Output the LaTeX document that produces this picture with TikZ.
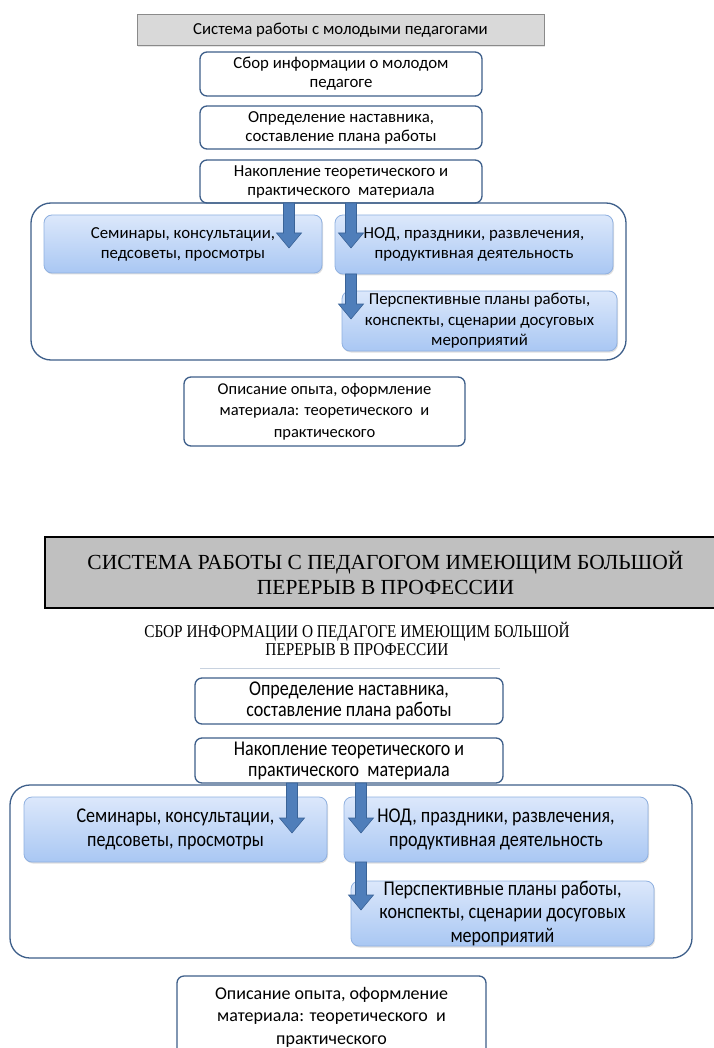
\documentclass[tikz,border=0pt]{standalone}
\usepackage{fontspec}
\setmainfont{Carlito}
\newfontfamily\condfont[FakeStretch=0.86]{Carlito}
\newfontfamily\ttlfont{Liberation Serif}
\newfontfamily\capsfont[FakeStretch=0.85]{Liberation Serif}
\usepackage{xcolor}
\usepackage{tikz}
\usetikzlibrary{shadows,calc}

\definecolor{frameblue}{HTML}{3E5F8A}
\definecolor{bluetop}{HTML}{DCE8FB}
\definecolor{bluebot}{HTML}{A9C7F3}
\definecolor{blueedge}{HTML}{8FB0E0}
\definecolor{arrowblue}{HTML}{4F7EBA}
\definecolor{arrowedge}{HTML}{3A6397}
\definecolor{ttlgray}{HTML}{D9D9D9}
\definecolor{ttledge}{HTML}{8A8A8A}
\definecolor{biggray}{HTML}{C0C0C0}
\definecolor{faintline}{HTML}{C8D2DF}

\newcommand{\blockarr}[2]{%
    \filldraw[arrowstyle] let \p1=(#1), \p2=(#2) in
        (\x1-5.5pt,\y1) -- (\x1+5.5pt,\y1) -- (\x1+5.5pt,\y2+15pt) -- (\x1+12.5pt,\y2+15pt)
        -- (\x1,\y2) -- (\x1-12.5pt,\y2+15pt) -- (\x1-5.5pt,\y2+15pt) -- cycle;
}

\begin{document}
\begin{tikzpicture}[x=1pt,y=-1pt]
    \tikzstyle{whitebox}=[draw=frameblue, line width=1.3pt, rounded corners=7pt, fill=white, align=center, inner sep=0pt, font=\fontsize{16.8}{19}\selectfont]
    \tikzstyle{bluebox}=[draw=blueedge, line width=0.8pt, rounded corners=8pt, top color=bluetop, bottom color=bluebot, align=center, inner sep=0pt, font=\fontsize{16.8}{20}\selectfont, drop shadow={shadow xshift=1pt, shadow yshift=-1.5pt, opacity=0.25}]
    \tikzstyle{frame}=[draw=frameblue, line width=1.3pt, rounded corners=20pt]
    \tikzstyle{arrowstyle}=[fill=arrowblue, draw=arrowedge, line width=0.6pt]
    \tikzstyle{lower}=[font=\condfont\fontsize{21}{21}\selectfont]
\useasboundingbox (0,0) rectangle (713,1048);
\fill[white] (0,0) rectangle (713,1048);

\node[draw=ttledge, line width=1pt, fill=ttlgray, minimum width=407pt, minimum height=31pt, inner sep=0pt, font=\fontsize{16.8}{18}\selectfont,
    drop shadow={shadow xshift=1pt, shadow yshift=-1.5pt, opacity=0.2}] (ttl) at (340.5,30.5) {Система работы с молодыми педагогами};
\node[whitebox, minimum width=282pt, minimum height=44pt] (info) at (341,74) {Сбор информации о молодом\\педагоге};
\node[whitebox, minimum width=282pt, minimum height=43pt] (ment) at (341,127.5) {Определение наставника,\\составление плана работы};
\node[whitebox, minimum width=282pt, minimum height=43pt] (acc) at (341,181.5) {Накопление теоретического и\\практического\ \ материала};
\node[frame, minimum width=595pt, minimum height=157pt] (cont) at (328.5,281.5) {};
\node[bluebox, minimum width=278pt, minimum height=58pt] (sem) at (183,244) {Семинары, консультации,\\педсоветы, просмотры};
\node[bluebox, minimum width=278pt, minimum height=59pt] (nod) at (474,244.5) {НОД, праздники, развлечения,\\продуктивная деятельность};
\node[bluebox, minimum width=275pt, minimum height=60pt, font=\fontsize{16.8}{20.5}\selectfont] (plan) at (479.5,321) {Перспективные планы работы,\\конспекты, сценарии досуговых\\мероприятий};
\node[whitebox, minimum width=281pt, minimum height=69pt, font=\fontsize{16.5}{21.5}\selectfont] (desc) at (324.5,411.5) {Описание опыта, оформление\\материала: теоретического\ \ и\\практического};

\coordinate (a1s) at (289,203);
\coordinate (a1e) at (289,248);
\coordinate (a2s) at (351,203);
\coordinate (a2e) at (351,248);
\coordinate (a3s) at (351,274);
\coordinate (a3e) at (351,319);
\blockarr{a1s}{a1e}
\blockarr{a2s}{a2e}
\blockarr{a3s}{a3e}

\node[draw=black, line width=2pt, fill=biggray, minimum width=681pt, minimum height=71pt, inner sep=0pt, align=center,
    font=\ttlfont\fontsize{21.5}{25}\selectfont] (bigttl) at (385.5,572.5) {СИСТЕМА РАБОТЫ С ПЕДАГОГОМ ИМЕЮЩИМ БОЛЬШОЙ\\ПЕРЕРЫВ В ПРОФЕССИИ};
\node[align=center, inner sep=0pt, font=\capsfont\fontsize{18}{18.5}\selectfont] (sbor) at (357,639) {СБОР ИНФОРМАЦИИ О ПЕДАГОГЕ ИМЕЮЩИМ БОЛЬШОЙ\\ПЕРЕРЫВ В ПРОФЕССИИ};
\draw[faintline, line width=1pt] (200,668) -- (500,668);
\node[whitebox, lower, minimum width=308pt, minimum height=46pt] (ment2) at (349,701) {Определение наставника,\\составление плана работы};
\node[whitebox, lower, minimum width=308pt, minimum height=45pt] (acc2) at (349,760.5) {Накопление теоретического и\\практического\ \ материала};
\node[frame, minimum width=682pt, minimum height=173pt] (cont2) at (351,871.5) {};
\node[bluebox, lower, minimum width=303pt, minimum height=65pt, font=\condfont\fontsize{21}{24}\selectfont] (sem2) at (175.5,829.5) {Семинары, консультации,\\педсоветы, просмотры};
\node[bluebox, lower, minimum width=304pt, minimum height=65pt, font=\condfont\fontsize{21}{24}\selectfont] (nod2) at (496,829.5) {НОД, праздники, развлечения,\\продуктивная деятельность};
\node[bluebox, lower, minimum width=303pt, minimum height=65pt, font=\condfont\fontsize{21}{23.5}\selectfont] (plan2) at (502.5,913.5) {Перспективные планы работы,\\конспекты, сценарии досуговых\\мероприятий};
\node[whitebox, minimum width=309pt, minimum height=82pt, font=\fontsize{18}{22.5}\selectfont] (desc2) at (331.5,1017) {Описание опыта, оформление\\материала: теоретического\ \ и\\практического};

\coordinate (b1s) at (292,783);
\coordinate (b1e) at (292,833);
\coordinate (b2s) at (361,783);
\coordinate (b2e) at (361,833);
\coordinate (b3s) at (361,862);
\coordinate (b3e) at (361,910);
\blockarr{b1s}{b1e}
\blockarr{b2s}{b2e}
\blockarr{b3s}{b3e}
\end{tikzpicture}
\end{document}
